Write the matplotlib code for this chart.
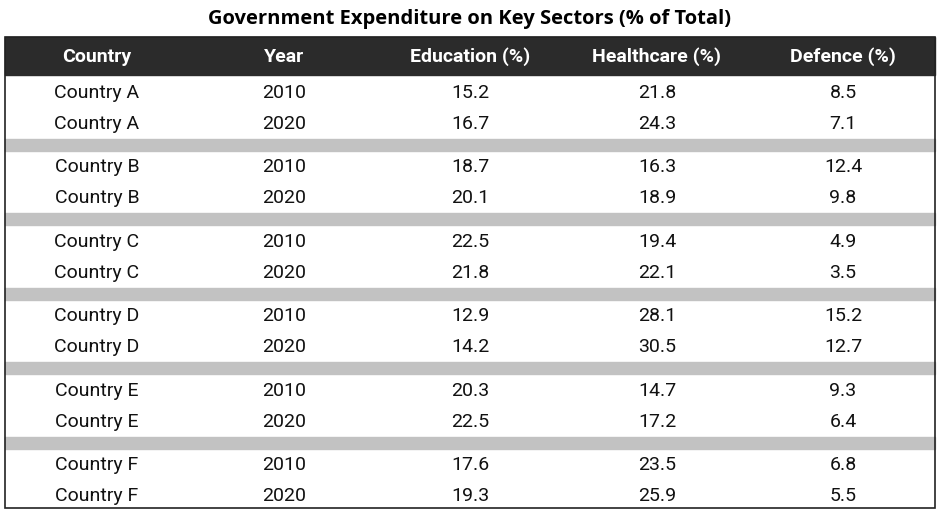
import matplotlib.pyplot as plt
from matplotlib.patches import Rectangle

# table data
headers = ["Country", "Year", "Education (%)", "Healthcare (%)", "Defence (%)"]
countries = ["Country A", "Country A", "Country B", "Country B", "Country C", "Country C",
             "Country D", "Country D", "Country E", "Country E", "Country F", "Country F"]
years = ["2010", "2020"] * 6
education = ["15.2", "16.7", "18.7", "20.1", "22.5", "21.8", "12.9", "14.2", "20.3", "22.5", "17.6", "19.3"]
healthcare = ["21.8", "24.3", "16.3", "18.9", "19.4", "22.1", "28.1", "30.5", "14.7", "17.2", "23.5", "25.9"]
defence = ["8.5", "7.1", "12.4", "9.8", "4.9", "3.5", "15.2", "12.7", "9.3", "6.4", "6.8", "5.5"]

W, H = 940, 513
fig = plt.figure(figsize=(W / 100, H / 100), dpi=100)
ax = fig.add_axes([0, 0, 1, 1])
ax.set_xlim(0, W)
ax.set_ylim(H, 0)
ax.axis("off")

col_x = [97, 284, 470, 657, 843]
left, right = 5, 935

ax.text(W / 2, 19, "Government Expenditure on Key Sectors (% of Total)", ha="center", va="center",
        fontsize=14.5, fontweight="bold", family="Open Sans")

# header
ax.add_patch(Rectangle((left, 37), right - left, 38, color="#2b2b2b", zorder=1))
for x, h in zip(col_x, headers):
    ax.text(x, 57, h, ha="center", va="center", color="white", fontsize=14,
            fontweight="bold", family="Roboto")

cols = [countries, years, education, healthcare, defence]
pitch = 74.4
for i in range(len(countries)):
    g, r = divmod(i, 2)
    y = 93 + g * pitch + r * 31
    for x, c in zip(col_x, cols):
        ax.text(x, y, c[i], ha="center", va="center", fontsize=14, family="Roboto", color="#111111")
    if r == 1 and g < 5:
        ax.add_patch(Rectangle((left, y + 15), right - left, 12, color="#c2c2c2", zorder=0))

ax.add_patch(Rectangle((left, 37), right - left, 471, fill=False, lw=1.2, ec="#222222", zorder=2))

fig.savefig("out.png", dpi=100)
